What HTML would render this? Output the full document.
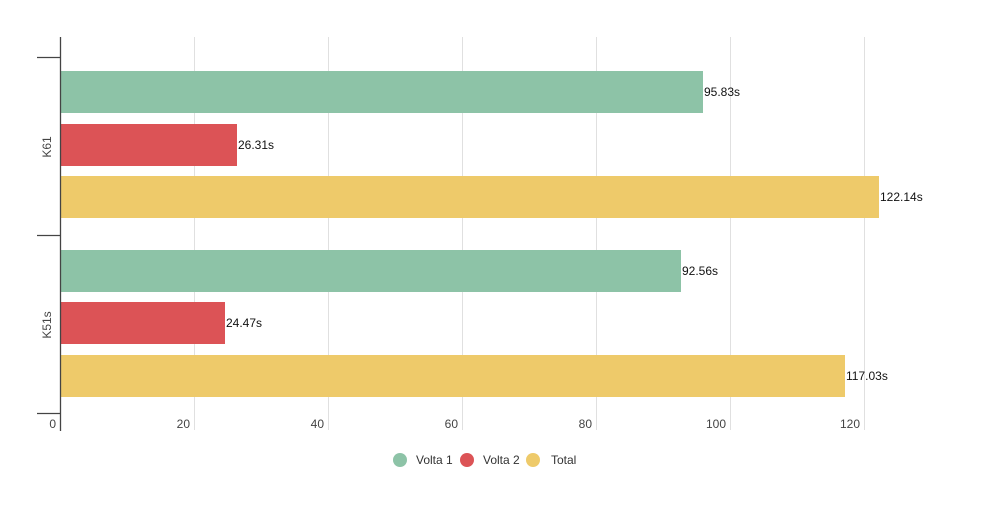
<!DOCTYPE html>
<html><head><meta charset="utf-8"><style>body{margin:0;background:#fff}svg{display:block}text{font-family:"Liberation Sans",sans-serif}</style></head><body>
<svg width="1000" height="512" viewBox="0 0 1000 512">
<g stroke="#e0e0e0" stroke-width="1">
<line x1="194.5" y1="37" x2="194.5" y2="430"/><line x1="328.5" y1="37" x2="328.5" y2="430"/><line x1="462.5" y1="37" x2="462.5" y2="430"/><line x1="596.5" y1="37" x2="596.5" y2="430"/><line x1="730.5" y1="37" x2="730.5" y2="430"/><line x1="864.5" y1="37" x2="864.5" y2="430"/>
</g>
<rect x="61" y="71" width="642" height="42" fill="#8dc3a7"/>
<rect x="61" y="124" width="176" height="42" fill="#dc5356"/>
<rect x="61" y="176" width="818" height="42" fill="#eeca6a"/>
<rect x="61" y="250" width="620" height="42" fill="#8dc3a7"/>
<rect x="61" y="302" width="164" height="42" fill="#dc5356"/>
<rect x="61" y="355" width="784" height="42" fill="#eeca6a"/>
<g font-size="12" fill="#111">
<text x="704" y="96">95.83s</text><text x="238" y="149">26.31s</text><text x="880" y="201">122.14s</text>
<text x="682" y="275">92.56s</text><text x="226" y="327">24.47s</text><text x="846" y="380">117.03s</text>
</g>
<g stroke="#444" stroke-width="1.3">
<line x1="60.5" y1="37" x2="60.5" y2="431"/>
<line x1="37" y1="57.5" x2="60" y2="57.5"/><line x1="37" y1="235.5" x2="60" y2="235.5"/><line x1="37" y1="413.5" x2="60" y2="413.5"/>
</g>
<g font-size="12" fill="#444" text-anchor="end">
<text x="56" y="428">0</text><text x="190" y="428">20</text><text x="324" y="428">40</text><text x="458" y="428">60</text><text x="592" y="428">80</text><text x="726" y="428">100</text><text x="860" y="428">120</text>
</g>
<g font-size="12" fill="#444" text-anchor="middle">
<text transform="translate(51,147) rotate(-90)">K61</text>
<text transform="translate(51,325) rotate(-90)">K51s</text>
</g>
<circle cx="400" cy="460" r="7" fill="#8dc3a7"/><circle cx="467" cy="460" r="7" fill="#dc5356"/><circle cx="533" cy="460" r="7" fill="#eeca6a"/>
<g font-size="12" fill="#333"><text x="416" y="464">Volta 1</text><text x="483" y="464">Volta 2</text><text x="551" y="464">Total</text></g>
</svg>
</body></html>
